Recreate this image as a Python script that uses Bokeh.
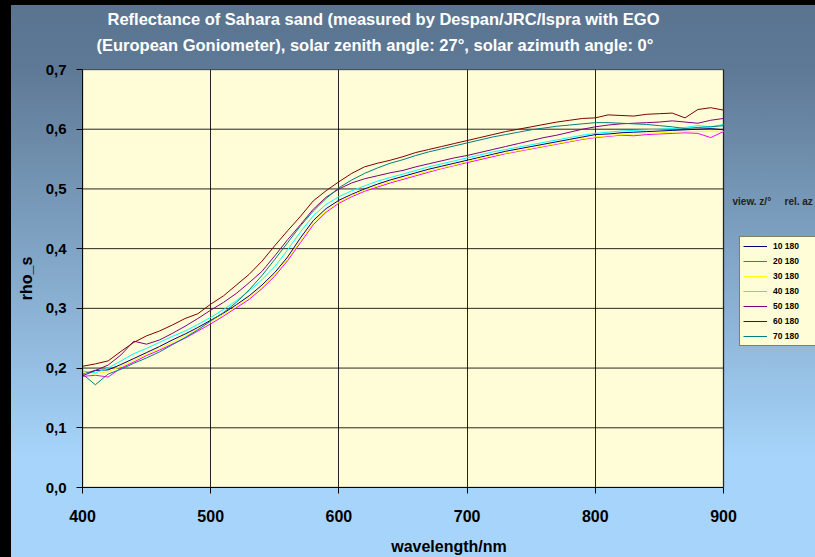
from bokeh.plotting import figure
from bokeh.models import (Range1d, FixedTicker, CustomJSTickFormatter, Legend,
                          LegendItem, Title, Label, BoxAnnotation)
from bokeh.embed import file_html
from bokeh.resources import INLINE

wavelength = list(range(400, 901, 10))

series_labels = ["10 180", "20 180", "30 180", "40 180", "50 180", "60 180", "70 180"]
series_colors = ["#000080", "#ff00ff", "#ffff00", "#00ffff", "#800080", "#800000", "#008080"]

rho_10_180 = [0.190, 0.196, 0.197, 0.206, 0.216, 0.226, 0.236, 0.247, 0.257, 0.268,
              0.280, 0.292, 0.306, 0.321, 0.339, 0.360, 0.386, 0.418, 0.447, 0.467,
              0.481, 0.491, 0.500, 0.508, 0.515, 0.521, 0.527, 0.533, 0.538, 0.543,
              0.548, 0.553, 0.558, 0.563, 0.567, 0.571, 0.575, 0.579, 0.583, 0.587,
              0.591, 0.592, 0.594, 0.595, 0.596, 0.597, 0.598, 0.599, 0.600, 0.601, 0.599]
rho_20_180 = [0.186, 0.188, 0.185, 0.200, 0.210, 0.221, 0.230, 0.240, 0.250, 0.262,
              0.274, 0.287, 0.301, 0.315, 0.333, 0.354, 0.380, 0.410, 0.440, 0.461,
              0.476, 0.487, 0.496, 0.503, 0.510, 0.516, 0.522, 0.528, 0.534, 0.539,
              0.544, 0.549, 0.554, 0.559, 0.563, 0.567, 0.571, 0.575, 0.579, 0.583,
              0.586, 0.588, 0.590, 0.589, 0.591, 0.592, 0.593, 0.594, 0.593, 0.586, 0.596]
rho_30_180 = [0.192, 0.190, 0.194, 0.203, 0.213, 0.223, 0.233, 0.243, 0.254, 0.265,
              0.277, 0.290, 0.303, 0.318, 0.336, 0.357, 0.383, 0.413, 0.443, 0.463,
              0.478, 0.489, 0.498, 0.505, 0.512, 0.518, 0.524, 0.530, 0.535, 0.540,
              0.546, 0.551, 0.556, 0.560, 0.564, 0.568, 0.572, 0.576, 0.580, 0.584,
              0.587, 0.589, 0.591, 0.592, 0.593, 0.594, 0.595, 0.596, 0.596, 0.597, 0.596]
rho_40_180 = [0.195, 0.192, 0.200, 0.212, 0.224, 0.233, 0.243, 0.253, 0.262, 0.273,
              0.285, 0.298, 0.313, 0.329, 0.348, 0.370, 0.398, 0.428, 0.455, 0.474,
              0.487, 0.497, 0.505, 0.513, 0.519, 0.525, 0.531, 0.537, 0.542, 0.547,
              0.552, 0.557, 0.562, 0.566, 0.570, 0.574, 0.578, 0.582, 0.586, 0.590,
              0.593, 0.595, 0.597, 0.598, 0.599, 0.600, 0.601, 0.603, 0.606, 0.604, 0.608]
rho_50_180 = [0.187, 0.196, 0.205, 0.222, 0.245, 0.240, 0.247, 0.258, 0.270, 0.283,
              0.297, 0.310, 0.325, 0.343, 0.362, 0.388, 0.415, 0.440, 0.466, 0.486,
              0.500, 0.510, 0.517, 0.522, 0.527, 0.531, 0.537, 0.542, 0.547, 0.552,
              0.556, 0.561, 0.566, 0.571, 0.576, 0.581, 0.586, 0.590, 0.595, 0.600,
              0.604, 0.607, 0.609, 0.610, 0.611, 0.612, 0.614, 0.612, 0.610, 0.615, 0.618]
rho_60_180 = [0.203, 0.207, 0.212, 0.228, 0.243, 0.254, 0.262, 0.272, 0.283, 0.291,
              0.307, 0.321, 0.339, 0.357, 0.379, 0.405, 0.430, 0.454, 0.480, 0.497,
              0.512, 0.526, 0.537, 0.543, 0.548, 0.554, 0.561, 0.566, 0.571, 0.576,
              0.581, 0.586, 0.591, 0.596, 0.600, 0.604, 0.608, 0.612, 0.615, 0.618,
              0.619, 0.624, 0.623, 0.622, 0.625, 0.626, 0.627, 0.619, 0.633, 0.636, 0.632]
rho_70_180 = [0.190, 0.172, 0.190, 0.198, 0.208, 0.217, 0.227, 0.239, 0.251, 0.264,
              0.279, 0.293, 0.310, 0.331, 0.355, 0.382, 0.410, 0.438, 0.463, 0.484,
              0.502, 0.515, 0.526, 0.535, 0.543, 0.549, 0.556, 0.562, 0.567, 0.572,
              0.577, 0.582, 0.587, 0.591, 0.595, 0.599, 0.602, 0.605, 0.607, 0.609,
              0.611, 0.611, 0.610, 0.609, 0.608, 0.606, 0.604, 0.601, 0.603, 0.604, 0.606]

series_values = [rho_10_180, rho_20_180, rho_30_180, rho_40_180,
                 rho_50_180, rho_60_180, rho_70_180]

x_ticks = [400, 500, 600, 700, 800, 900]
y_ticks = [0.0, 0.1, 0.2, 0.3, 0.4, 0.5, 0.6, 0.7]

title_line1 = "Reflectance of Sahara sand (measured by Despan/JRC/Ispra with EGO"
title_line2 = "(European Goniometer), solar zenith angle: 27°, solar azimuth angle: 0°"
legend_header = ["view. z/°", "rel. az"]

FONT = "Liberation Sans"
X0, X1 = x_ticks[0], x_ticks[-1]
Y0, Y1 = y_ticks[0], y_ticks[-1]

# frame extends to the right edge so the legend (outside the data area) is visible
x_view_end = X0 + (815 - 82) * (X1 - X0) / 641.0

p = figure(width=815, height=557, output_backend="svg", toolbar_location=None,
           x_range=Range1d(X0, x_view_end), y_range=Range1d(Y0, Y1),
           min_border_left=82, min_border_right=0, min_border_top=69,
           min_border_bottom=68)

p.styles = {
    "background": "linear-gradient(to right, #000 0px, #000 11px, transparent 11px),"
                  "linear-gradient(to bottom, #000 0px, #000 5px, transparent 5px),"
                  "linear-gradient(to bottom, #5a7490 0%, #5e7995 12%, #a6d4fa 82%, #a6d4fa 100%)"
}
p.border_fill_color = None
p.background_fill_color = None
p.outline_line_color = None

# plot area
area = BoxAnnotation(left=X0, right=X1, bottom=Y0, top=Y1, fill_color="#fffdd7",
                     fill_alpha=1, line_color=None, level="image")
p.add_layout(area)

# grid
p.ygrid.visible = False
p.xgrid.ticker = FixedTicker(ticks=x_ticks)
p.xgrid.grid_line_color = "black"
p.xgrid.grid_line_alpha = 0.85
p.xgrid.grid_line_width = 1
p.segment(x0=[X0] * len(y_ticks), y0=y_ticks, x1=[X1] * len(y_ticks), y1=y_ticks,
          line_color="black", line_alpha=0.85, line_width=1, level="underlay")

renderers = []
for vals, col in zip(series_values, series_colors):
    r = p.line(wavelength, vals, line_color=col, line_width=1)
    renderers.append(r)

border = BoxAnnotation(left=X0, right=X1, bottom=Y0, top=Y1, fill_color=None,
                       line_color="#333333", line_width=2, level="overlay")
p.add_layout(border)

# axes
p.xaxis.ticker = FixedTicker(ticks=x_ticks)
p.xaxis.bounds = (X0, X1)
p.yaxis.ticker = FixedTicker(ticks=y_ticks)
p.yaxis.formatter = CustomJSTickFormatter(code="return tick.toFixed(1).replace('.', ',');")
for ax in (p.xaxis[0], p.yaxis[0]):
    ax.major_tick_in = 0
    ax.major_tick_out = 6
    ax.minor_tick_line_color = None
    ax.axis_line_color = "black"
    ax.major_tick_line_color = "black"
    ax.major_label_text_font = FONT
    ax.major_label_text_font_style = "bold"
    ax.major_label_text_color = "black"
    ax.axis_label_text_font = FONT
    ax.axis_label_text_font_style = "bold"
    ax.axis_label_text_color = "black"

p.xaxis.major_label_text_font_size = "16px"
p.yaxis.major_label_text_font_size = "15px"
p.xaxis.axis_label = "wavelength/nm"
p.yaxis.axis_label = "rho_s"
p.xaxis.axis_label_text_font_size = "16px"
p.yaxis.axis_label_text_font_size = "16px"
p.xaxis.major_label_standoff = 16
p.yaxis.major_label_standoff = 10
p.xaxis.axis_label_standoff = 13
p.yaxis.axis_label_standoff = 8

# titles (spacer keeps the two lines clear of the plot area)
spacer = Title(text=" ", text_font_size="1px", standoff=10)
t2 = Title(text=title_line2, align="left", text_font=FONT, text_font_style="bold",
           text_font_size="16.5px", text_color="white", offset=14, standoff=6)
t1 = Title(text=title_line1, align="left", text_font=FONT, text_font_style="bold",
           text_font_size="16.5px", text_color="white", offset=25, standoff=6)
p.title = None
p.add_layout(spacer, "above")
p.add_layout(t2, "above")
p.add_layout(t1, "above")

# legend
items = [LegendItem(label=lab, renderers=[r]) for lab, r in zip(series_labels, renderers)]
legend = Legend(items=items, location=(657, 141), orientation="vertical",
                label_text_font=FONT, label_text_font_style="bold",
                label_text_font_size="8.5px", label_text_color="black",
                glyph_width=24, glyph_height=12, label_height=12, label_width=50,
                label_standoff=6, spacing=3, padding=3, margin=0,
                border_line_color="black", border_line_width=1,
                background_fill_color="#fffdd7", background_fill_alpha=1)
p.add_layout(legend, "center")

hdr1 = Label(x=650, y=286, x_units="screen", y_units="screen", text=legend_header[0],
             text_font=FONT, text_font_style="bold", text_font_size="10px",
             text_color="#222222", text_baseline="middle")
hdr2 = Label(x=702, y=286, x_units="screen", y_units="screen", text=legend_header[1],
             text_font=FONT, text_font_style="bold", text_font_size="10px",
             text_color="#222222", text_baseline="middle")
p.add_layout(hdr1)
p.add_layout(hdr2)

open("out.html", "w").write(file_html(p, INLINE))
